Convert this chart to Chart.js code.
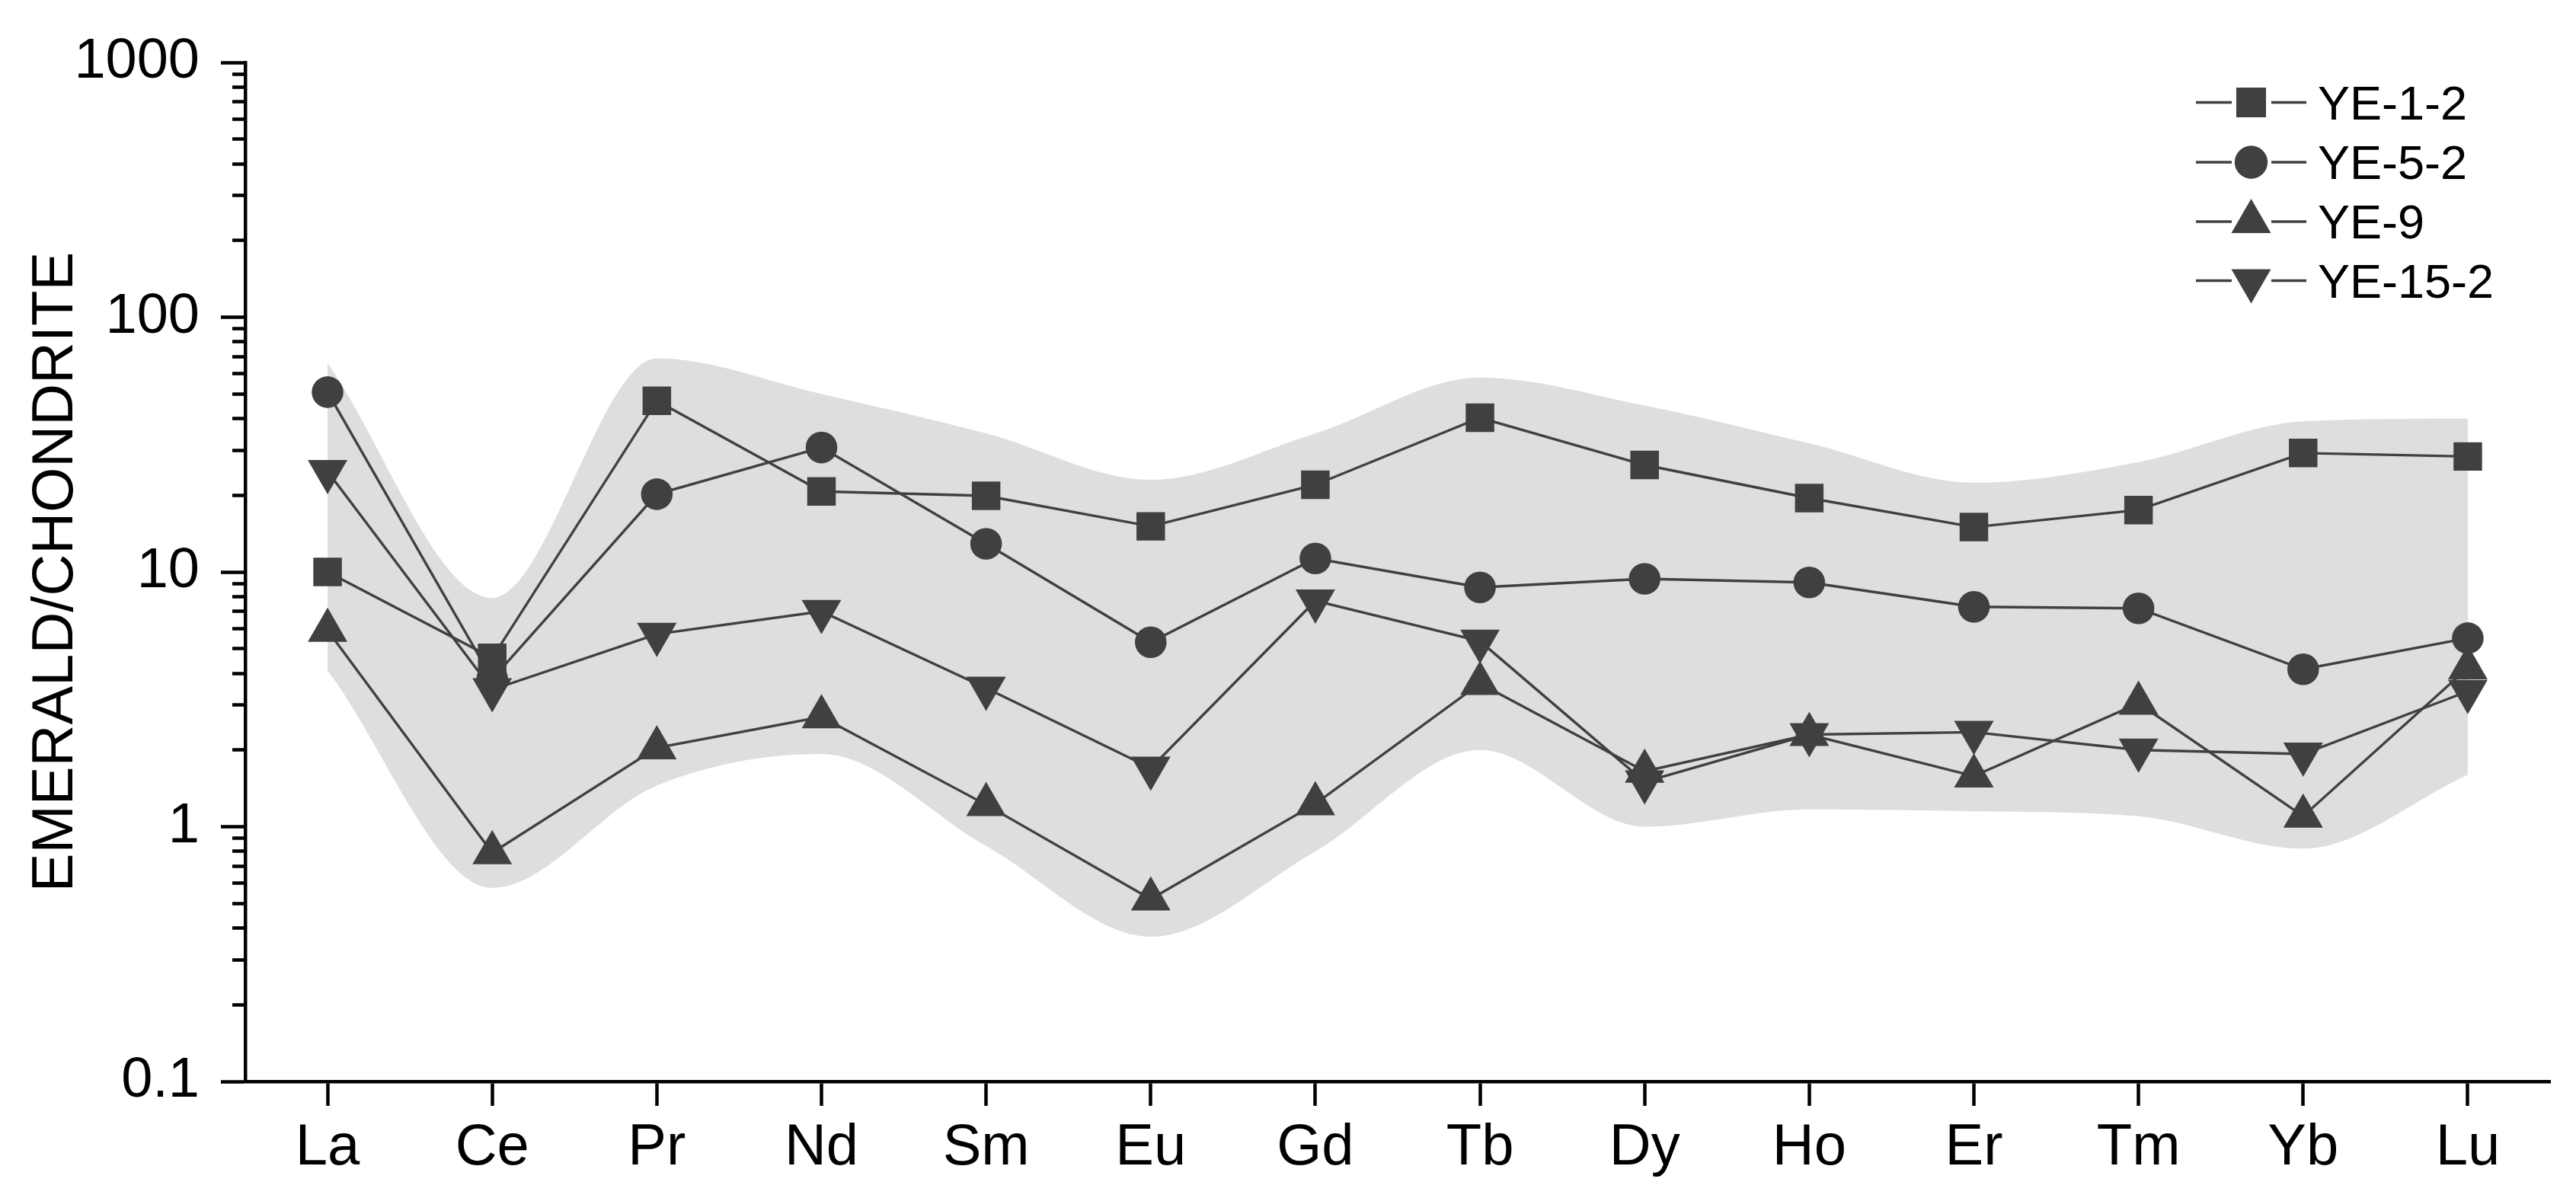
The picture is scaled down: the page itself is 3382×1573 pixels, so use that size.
<!DOCTYPE html>
<html>
<head>
<meta charset="utf-8">
<script src="https://cdn.jsdelivr.net/npm/chart.js@4.4.1/dist/chart.umd.min.js"></script>
<style>
html,body{margin:0;padding:0;background:#ffffff;}
canvas{display:block;}
</style>
</head>
<body>
<canvas id="c" width="3382" height="1573"></canvas>
<script>
// ---------------- data ----------------
const categories = ['La','Ce','Pr','Nd','Sm','Eu','Gd','Tb','Dy','Ho','Er','Tm','Yb','Lu'];
const seriesNames = ['YE-1-2','YE-5-2','YE-9','YE-15-2'];
const ye_1_2  = [10.0, 4.6, 47, 20.7, 19.9, 15.1, 22.0, 40.3, 26.3, 19.5, 15.0, 17.5, 29.3, 28.4];
const ye_5_2  = [50.8, 3.8, 20.2, 30.8, 12.9, 5.3, 11.3, 8.7, 9.4, 9.1, 7.3, 7.2, 4.15, 5.5];
const ye_9    = [5.9, 0.79, 2.04, 2.7, 1.22, 0.52, 1.23, 3.65, 1.65, 2.3, 1.58, 3.05, 1.1, 4.2];
const ye_15_2 = [24.8, 3.45, 5.7, 7.0, 3.5, 1.7, 7.7, 5.35, 1.5, 2.3, 2.35, 2.0, 1.93, 3.4];
const bandUpper = [66, 7.9, 69, 50, 35, 23, 35, 58, 45, 32, 22.4, 27, 39, 40];
const bandLower = [4.1, 0.575, 1.45, 1.93, 0.84, 0.37, 0.8, 2.0, 1.0, 1.17, 1.15, 1.1, 0.82, 1.6];
const yMajorTicks = [0.1, 1, 10, 100, 1000];
const yTickLabels = ['0.1', '1', '10', '100', '1000'];
const yTitle = 'EMERALD/CHONDRITE';

// ---------------- style ----------------
const DARK = '#404040';
const BAND = '#dddfde';
const FONT = '"Liberation Sans", Arial, Helvetica, sans-serif';
Chart.defaults.font.family = FONT;
Chart.defaults.color = '#000';

const markerStyles = [
  {pointStyle: 'rect', radius: 26.5, rotation: 0},
  {pointStyle: 'circle', radius: 20.8, rotation: 0},
  {pointStyle: 'triangle', radius: 30, rotation: 0},
  {pointStyle: 'triangle', radius: 30, rotation: 180}
];
const legendStyles = [
  {pointStyle: 'rect', radius: 27.6, rotation: 0},
  {pointStyle: 'circle', radius: 21.7, rotation: 0},
  {pointStyle: 'triangle', radius: 30, rotation: 0},
  {pointStyle: 'triangle', radius: 30, rotation: 180}
];

const seriesData = [ye_1_2, ye_5_2, ye_9, ye_15_2];

const seriesDatasets = seriesData.map((arr, i) => ({
  label: seriesNames[i],
  data: arr,
  borderColor: DARK,
  backgroundColor: DARK,
  borderWidth: 3.4,
  pointStyle: markerStyles[i].pointStyle,
  pointRadius: markerStyles[i].radius,
  pointHoverRadius: markerStyles[i].radius,
  pointRotation: markerStyles[i].rotation,
  pointBackgroundColor: DARK,
  pointBorderWidth: 0,
  fill: false,
  tension: 0,
  order: 1,
  clip: false
}));

const bandDatasets = [
  {
    label: 'band-upper',
    data: bandUpper,
    borderWidth: 0,
    borderColor: 'rgba(0,0,0,0)',
    pointRadius: 0,
    fill: false,
    cubicInterpolationMode: 'monotone',
    order: 10
  },
  {
    label: 'band-lower',
    data: bandLower,
    borderWidth: 0,
    borderColor: 'rgba(0,0,0,0)',
    backgroundColor: BAND,
    pointRadius: 0,
    fill: '-1',
    cubicInterpolationMode: 'monotone',
    order: 10
  }
];

// custom legend: line - marker - line, label
const lineLegend = {
  id: 'lineLegend',
  afterDraw(chart) {
    const ctx = chart.ctx;
    const rows = [134.5, 213, 291, 368.5];
    const cx = 2955.5;
    ctx.save();
    seriesNames.forEach((name, i) => {
      const y = rows[i];
      ctx.strokeStyle = DARK;
      ctx.lineWidth = 3.3;
      ctx.beginPath();
      ctx.moveTo(2883, y); ctx.lineTo(2930, y);
      ctx.moveTo(2982, y); ctx.lineTo(3028, y);
      ctx.stroke();
      ctx.fillStyle = DARK;
      Chart.helpers.drawPoint(ctx, {
        pointStyle: legendStyles[i].pointStyle,
        radius: legendStyles[i].radius,
        rotation: legendStyles[i].rotation,
        borderWidth: 0
      }, cx, y);
      ctx.fillStyle = '#000';
      ctx.font = '63px ' + FONT;
      ctx.textAlign = 'left';
      ctx.textBaseline = 'alphabetic';
      ctx.fillText(name, 3043, y + 22.4);
    });
    ctx.restore();
  }
};

new Chart(document.getElementById('c'), {
  type: 'line',
  data: {
    labels: categories,
    datasets: [...bandDatasets, ...seriesDatasets]
  },
  options: {
    responsive: false,
    animation: false,
    events: [],
    layout: {padding: {top: 82, right: 34, left: 0, bottom: 0}},
    plugins: {
      legend: {display: false},
      tooltip: {enabled: false},
      title: {display: false}
    },
    scales: {
      x: {
        type: 'category',
        offset: true,
        afterFit(s) { s.height = 153; },
        grid: {
          drawOnChartArea: false,
          drawTicks: true,
          tickLength: 32,
          tickWidth: 4.5,
          tickColor: '#000',
          offset: false
        },
        border: {display: true, color: '#000', width: 4.5},
        ticks: {
          autoSkip: false,
          maxRotation: 0,
          padding: 10,
          color: '#000',
          font: {size: 76, family: FONT, lineHeight: 1.2}
        }
      },
      y: {
        type: 'logarithmic',
        min: 0.1,
        max: 1000,
        afterFit(s) { s.width = 322; },
        afterBuildTicks(s) {
          const t = [];
          yMajorTicks.forEach((m, k) => {
            t.push({value: m, major: true});
            if (k < yMajorTicks.length - 1) {
              for (let j = 2; j <= 9; j++) {
                t.push({value: Math.round(m * j * 1000) / 1000, major: false});
              }
            }
          });
          s.ticks = t;
        },
        grid: {
          drawOnChartArea: false,
          drawTicks: true,
          tickLength: 32,
          tickWidth: 4.5,
          tickColor: '#000',
          tickBorderDash: (ctx) => (ctx.tick && ctx.tick.major) ? [] : [0, 15, 40]
        },
        border: {display: true, color: '#000', width: 4.5},
        ticks: {
          autoSkip: false,
          padding: 28,
          color: '#000',
          font: {size: 74, family: FONT},
          callback(value, index, ticks) {
            const k = yMajorTicks.indexOf(value);
            return k >= 0 ? yTickLabels[k] : '';
          }
        },
        title: {
          display: true,
          text: yTitle,
          color: '#000',
          font: {size: 76, family: FONT, lineHeight: 1.2},
          padding: {top: 28, bottom: 0}
        }
      }
    }
  },
  plugins: [lineLegend]
});
</script>
</body>
</html>
